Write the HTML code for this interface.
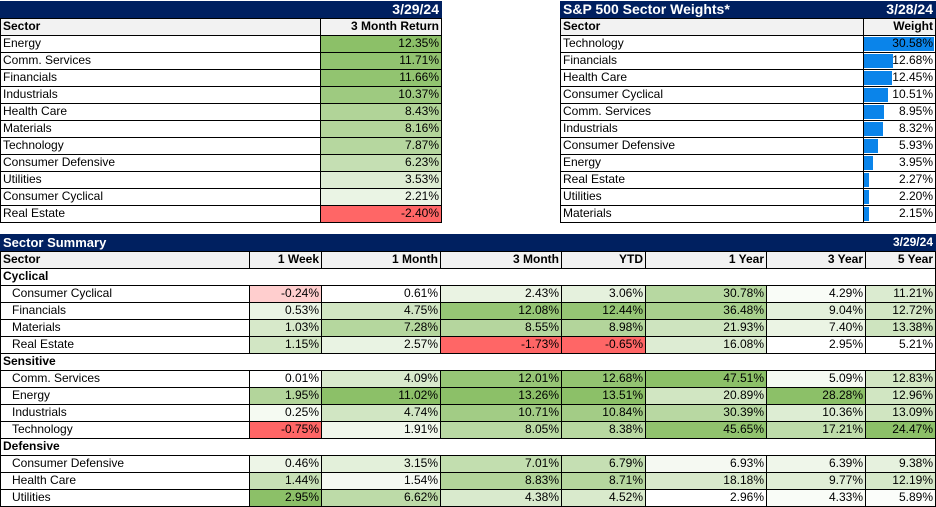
<!DOCTYPE html>
<html><head><meta charset="utf-8"><style>
body{margin:0;width:936px;height:506px;background:#fff;position:relative;overflow:hidden;font-family:"Liberation Sans",Arial,sans-serif;font-size:12px;color:#000}
.c{position:absolute;box-sizing:border-box;border:1px solid #000;line-height:15px;white-space:nowrap;overflow:hidden;padding:0 2px}
.r{text-align:right}
.t{background:#002060;color:#fff;font-weight:bold;border-color:#002060}
.h{background:#f2f2f2;font-weight:bold}
.b{font-weight:bold}
.bar{position:absolute;background:#0a84ea;top:1px;bottom:1px;left:0}
.txt{position:relative}
</style></head><body>
<script>
const topSectors=["Energy","Comm. Services","Financials","Industrials","Health Care","Materials","Technology","Consumer Defensive","Utilities","Consumer Cyclical","Real Estate"];
const topReturns=[12.35,11.71,11.66,10.37,8.43,8.16,7.87,6.23,3.53,2.21,-2.40];
const wSectors=["Technology","Financials","Health Care","Consumer Cyclical","Comm. Services","Industrials","Consumer Defensive","Energy","Real Estate","Utilities","Materials"];
const weights=[30.58,12.68,12.45,10.51,8.95,8.32,5.93,3.95,2.27,2.20,2.15];
const sumCols=["1 Week","1 Month","3 Month","YTD","1 Year","3 Year","5 Year"];
const groups=["Cyclical","Sensitive","Defensive"];
const groupSectors=[["Consumer Cyclical","Financials","Materials","Real Estate"],["Comm. Services","Energy","Industrials","Technology"],["Consumer Defensive","Health Care","Utilities"]];
const sumVals=[
[[-0.24,0.61,2.43,3.06,30.78,4.29,11.21],[0.53,4.75,12.08,12.44,36.48,9.04,12.72],[1.03,7.28,8.55,8.98,21.93,7.40,13.38],[1.15,2.57,-1.73,-0.65,16.08,2.95,5.21]],
[[0.01,4.09,12.01,12.68,47.51,5.09,12.83],[1.95,11.02,13.26,13.51,20.89,28.28,12.96],[0.25,4.74,10.71,10.84,30.39,10.36,13.09],[-0.75,1.91,8.05,8.38,45.65,17.21,24.47]],
[[0.46,3.15,7.01,6.79,6.93,6.39,9.38],[1.44,1.54,8.83,8.71,18.18,9.77,12.19],[2.95,6.62,4.38,4.52,2.96,4.33,5.89]]];

function cell(x,y,w,h,txt,cls,name,bg){
  const d=document.createElement('div');
  d.className='c '+(cls||'');
  d.style.left=x+'px';d.style.top=y+'px';d.style.width=(w+1)+'px';d.style.height=(h+1)+'px';
  if(bg)d.style.background=bg;
  d.textContent=txt;
  
  
  document.body.appendChild(d);return d;
}
function scaleColor(v,arr){
  const mn=Math.min(...arr),mx=Math.max(...arr);
  const G=[140,192,104],R=[255,102,102],W=[255,255,255];
  let t,c;
  if(v<0){t=v/mn;c=R;}
  else{const lo=mn<0?0:mn;t=mx>lo?(v-lo)/(mx-lo):0;c=G;}
  const m=W.map((w,i)=>Math.round(w+(c[i]-w)*t));
  return 'rgb('+m.join(',')+')';
}
const fmt=v=>v.toFixed(2)+'%';
const RH=17;
// top-left
cell(0,1,441,RH,'`','t','returns-title');
cell(0,1,441,RH,'3/29/24','t r','returns-date').style.fontSize='14px';
cell(0,1+RH,320,RH,'Sector','h','returns-sector-header');
cell(320,1+RH,121,RH,'3 Month Return','h r','returns-value-header');
topSectors.forEach((s,i)=>{
  const y=1+RH*(i+2);
  cell(0,y,320,RH,s,'','returns-sector-'+i);
  cell(320,y,121,RH,fmt(topReturns[i]),'r','returns-value-'+i,scaleColor(topReturns[i],topReturns));
});
// top-right
cell(560,1,375,RH,'S&P 500 Sector Weights*','t','weights-title').style.fontSize='14px';
const wd=cell(860,1,75,RH,'3/28/24','t r','weights-date');wd.style.fontSize='14px';wd.style.borderColor='transparent';
cell(560,1+RH,303,RH,'Sector','h','weights-sector-header');
cell(863,1+RH,72,RH,'Weight','h r','weights-value-header');
const wmax=Math.max(...weights);
weights.forEach((v,i)=>{
  const y=1+RH*(i+2);
  cell(560,y,303,RH,wSectors[i],'','weights-sector-'+i);
  const d=cell(863,y,72,RH,'','r','weights-value-'+i);
  const b=document.createElement('div');b.className='bar';b.style.width=(v/wmax*70)+'px';
  
  
  d.appendChild(b);
  const s=document.createElement('span');s.className='txt';s.textContent=fmt(v);
  
  
  d.appendChild(s);
});
// summary
const cx=[0,249,321,440,561,645,766,865,935];
let y=234;
const st=cell(0,y,935,RH,'Sector Summary','t','summary-title');st.style.fontSize='13px';
const sd=cell(800,y,135,RH,'3/29/24','t r','summary-date');sd.style.borderColor='transparent';
y+=RH;
cell(0,y,249,RH,'Sector','h','summary-sector-header');
sumCols.forEach((c,j)=>cell(cx[j+1],y,cx[j+2]-cx[j+1],RH,c,'h r','summary-header-'+j));
y+=RH;
const colArr=sumCols.map((_,j)=>sumVals.flat().map(r=>r[j]));
groups.forEach((g,gi)=>{
  cell(0,y,935,RH,g,'b','group-'+g.toLowerCase());y+=RH;
  groupSectors[gi].forEach((s,si)=>{
    const d=cell(0,y,249,RH,s,'','summary-sector-'+g.toLowerCase()+'-'+si);d.style.paddingLeft='11px';
    sumVals[gi][si].forEach((v,j)=>cell(cx[j+1],y,cx[j+2]-cx[j+1],RH,fmt(v),'r','summary-'+g.toLowerCase()+'-'+si+'-'+j,scaleColor(v,colArr[j])));
    y+=RH;
  });
});
</script>
</body></html>
